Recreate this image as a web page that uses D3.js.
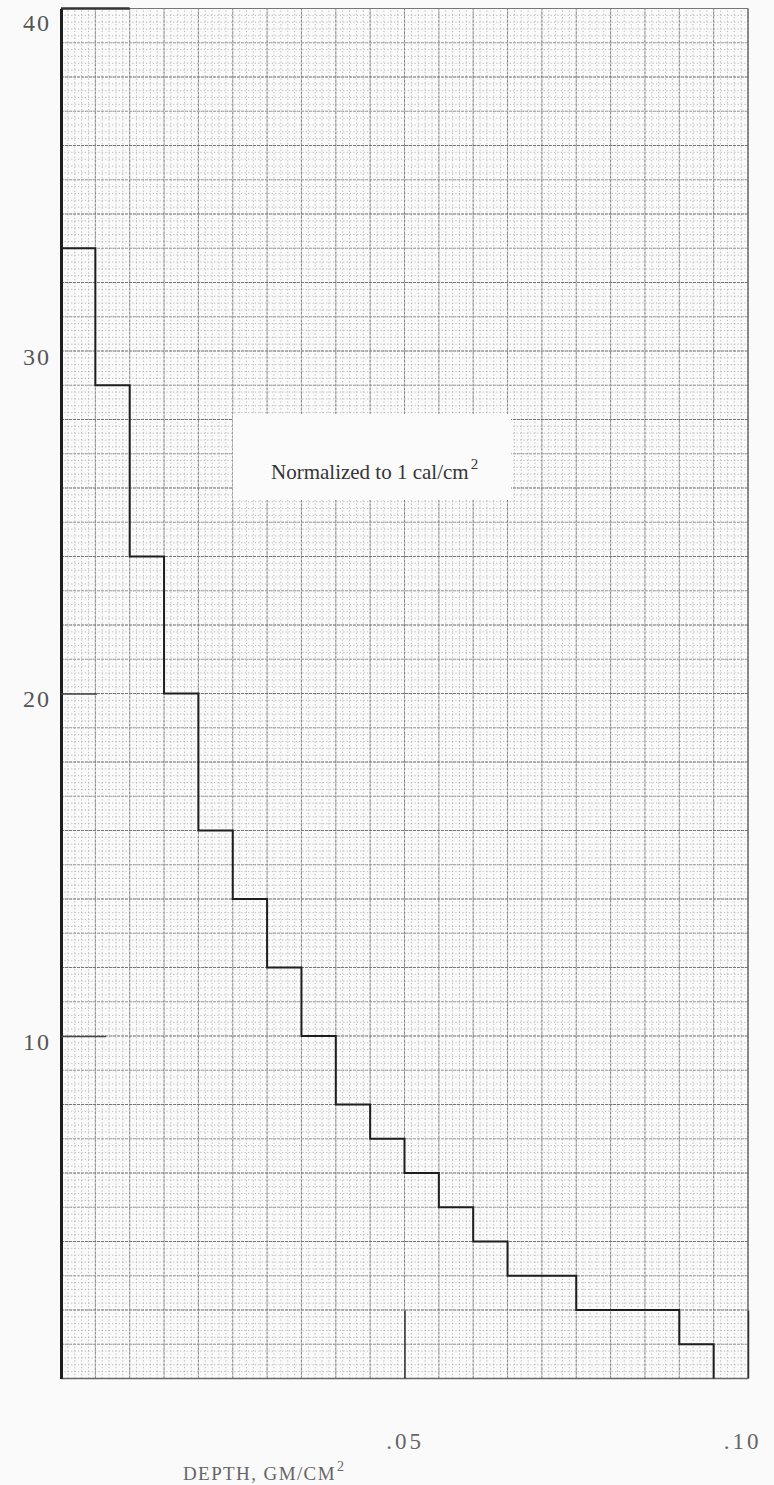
<!DOCTYPE html>
<html>
<head>
<meta charset="utf-8">
<script src="https://cdn.jsdelivr.net/npm/d3@7"></script>
<style>
  html, body { margin: 0; padding: 0; background: #fafafa; }
  svg { display: block; }
</style>
</head>
<body>
<svg id="chart" width="774" height="1485"></svg>
<script>
// Step profile: depth bin edges (gm/cm^2) and the value held over each bin
const depthEdges = [0, 0.005, 0.010, 0.015, 0.020, 0.025, 0.030, 0.035, 0.040,
                    0.045, 0.050, 0.055, 0.060, 0.065, 0.075, 0.090, 0.095];
const binValues  = [33, 29, 24, 20, 16, 14, 12, 10, 8, 7, 6, 5, 4, 3, 2, 1];

// Axis ticks
const yTicks = [10, 20, 30, 40];
const xTicks = [0.05, 0.10];
const xTickLabels = [".05", ".10"];

const xLabel = "DEPTH, GM/CM";
const note = "Normalized to 1 cal/cm";

const svg = d3.select("#chart");
const x = d3.scaleLinear().domain([0, 0.10]).range([61, 748]);
const y = d3.scaleLinear().domain([0, 40]).range([1378.5, 8.5]);

const grid = svg.append("g");

// fine dotted graph-paper ruling
grid.append("g").selectAll("line")
  .data(d3.range(0, 101).map(i => i / 1000))
  .join("line")
  .attr("x1", d => x(d)).attr("x2", d => x(d))
  .attr("y1", y(0)).attr("y2", y(40))
  .attr("stroke", "#aaa").attr("stroke-width", 0.8)
  .attr("stroke-dasharray", "1.2,2.2");
grid.append("g").selectAll("line")
  .data(d3.range(0, 201).map(i => i / 5))
  .join("line")
  .attr("x1", x(0)).attr("x2", x(0.10))
  .attr("y1", d => y(d)).attr("y2", d => y(d))
  .attr("stroke", "#aaa").attr("stroke-width", 0.8)
  .attr("stroke-dasharray", "1.2,2.2");

// medium ruling
grid.append("g").selectAll("line")
  .data(d3.range(0, 21).map(i => i * 0.005))
  .join("line")
  .attr("x1", d => x(d)).attr("x2", d => x(d))
  .attr("y1", y(0)).attr("y2", y(40))
  .attr("stroke", "#888").attr("stroke-width", 1)
  .attr("stroke-dasharray", "3,1");
grid.append("g").selectAll("line")
  .data(d3.range(0, 41))
  .join("line")
  .attr("x1", x(0)).attr("x2", x(0.10))
  .attr("y1", d => y(d)).attr("y2", d => y(d))
  .attr("stroke", d => d % 2 === 0 ? "#777" : "#959595")
  .attr("stroke-width", d => d % 2 === 0 ? 1.1 : 0.9)
  .attr("stroke-dasharray", "3,1");

// frame
svg.append("line").attr("x1", x(0.10)).attr("x2", x(0.10)).attr("y1", y(0)).attr("y2", y(40))
  .attr("stroke", "#666").attr("stroke-width", 1.3);
svg.append("line").attr("x1", x(0)).attr("x2", x(0.10)).attr("y1", y(0)).attr("y2", y(0))
  .attr("stroke", "#666").attr("stroke-width", 1.3);
svg.append("line").attr("x1", x(0)).attr("x2", x(0.10)).attr("y1", y(40)).attr("y2", y(40))
  .attr("stroke", "#777").attr("stroke-width", 1.1);
svg.append("line").attr("x1", x(0)).attr("x2", x(0.01)).attr("y1", y(40)).attr("y2", y(40))
  .attr("stroke", "#333").attr("stroke-width", 2.4);

// label panel
svg.append("rect")
  .attr("x", 233).attr("y", 414).attr("width", 278).attr("height", 86)
  .attr("fill", "#fbfbfb");
const noteText = svg.append("text")
  .attr("x", 271).attr("y", 479)
  .attr("font-family", "Liberation Serif, serif")
  .attr("font-size", 21)
  .attr("fill", "#353535")
  .text(note);
const noteEnd = 271 + noteText.node().getComputedTextLength();
svg.append("text")
  .attr("x", noteEnd + 2).attr("y", 469)
  .attr("font-family", "Liberation Serif, serif")
  .attr("font-size", 15).attr("fill", "#353535")
  .text("2");

// left axis
const yAxis = d3.axisLeft(y).tickValues(yTicks).tickSizeInner(0).tickSizeOuter(0).tickPadding(10)
  .tickFormat(d3.format("d"));
const gy = svg.append("g").attr("transform", `translate(${x(0)},0)`).call(yAxis);
gy.select(".domain").attr("stroke", "#1e1e1e").attr("stroke-width", 3);
// short inward tick strokes at the lower labelled values
gy.selectAll(".tick line")
  .attr("x2", d => d <= 20 ? (d === 10 ? 45 : 36) : 0)
  .attr("stroke", "#444").attr("stroke-width", 1.6);
gy.selectAll(".tick text")
  .attr("font-family", "Liberation Serif, serif").attr("font-size", 24)
  .attr("fill", "#555").attr("letter-spacing", 2)
  .attr("dy", d => d === 40 ? "0.9em" : "0.55em");

// bottom axis
const xAxis = d3.axisBottom(x).tickValues(xTicks).tickSize(-68).tickPadding(54)
  .tickFormat((d, i) => xTickLabels[i]);
const gx = svg.append("g").attr("transform", `translate(0,${y(0)})`).call(xAxis);
gx.select(".domain").remove();
gx.selectAll(".tick line").attr("stroke", "#333").attr("stroke-width", 1.5);
gx.selectAll(".tick text")
  .attr("font-family", "Liberation Serif, serif").attr("font-size", 23)
  .attr("fill", "#666").attr("letter-spacing", 3)
  .attr("dx", d => d === 0.10 ? -6 : 0);

// axis title with raised "2" after the measured base text
const title = svg.append("text")
  .attr("x", 183).attr("y", 1480)
  .attr("font-family", "Liberation Serif, serif").attr("font-size", 19)
  .attr("letter-spacing", 1.4)
  .attr("fill", "#666")
  .text(xLabel);
const titleEnd = 183 + title.node().getComputedTextLength();
svg.append("text")
  .attr("x", titleEnd + 1).attr("y", 1471)
  .attr("font-family", "Liberation Serif, serif")
  .attr("font-size", 14).attr("fill", "#666")
  .text("2");

// step curve
const pts = binValues.map((v, i) => [depthEdges[i], v]);
pts.push([depthEdges[depthEdges.length - 1], binValues[binValues.length - 1]]);
pts.push([depthEdges[depthEdges.length - 1], 0]);
const line = d3.line().x(d => x(d[0])).y(d => y(d[1])).curve(d3.curveStepAfter);
svg.append("path").datum(pts)
  .attr("d", line).attr("fill", "none")
  .attr("stroke", "#1e1e1e").attr("stroke-width", 2);
</script>
</body>
</html>
